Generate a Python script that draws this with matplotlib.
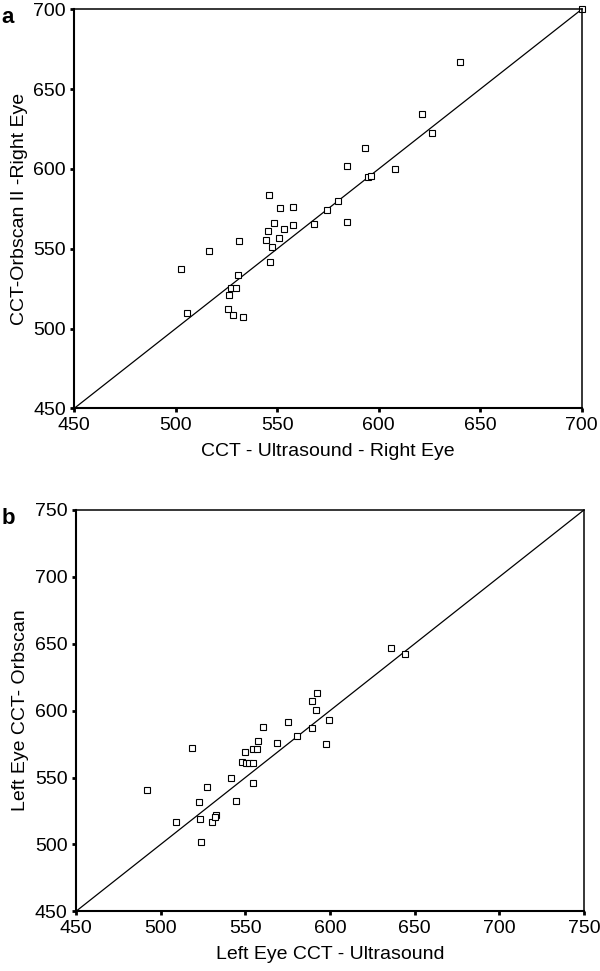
import matplotlib
matplotlib.use("Agg")
import matplotlib.pyplot as plt

plt.rcParams['font.family'] = ['Liberation Sans', 'DejaVu Sans']

# panel a: right eye (ultrasound vs Orbscan II)
right_us = [502.4, 505.4, 516.4, 531.3, 530.8, 527.2, 529.5, 526.2, 525.7, 528.0,
            533.1, 544.4, 545.6, 548.2, 547.5, 546.2, 550.7, 553.2, 551.3, 557.6,
            557.6, 567.9, 574.3, 579.8, 546.0, 584.5, 640.0, 621.1, 626.2, 593.2,
            584.5, 608.1, 594.5, 596.3, 700.0]
right_orb = [537.5, 509.5, 548.7, 554.6, 533.5, 525.2, 525.6, 520.8, 512.0, 508.6,
             507.2, 555.4, 560.9, 565.9, 551.3, 541.7, 556.9, 562.5, 575.7, 576.3,
             565.0, 565.3, 574.1, 580.0, 583.8, 566.5, 667.2, 634.4, 622.3, 613.3,
             601.8, 600.1, 595.1, 595.7, 700.0]

# panel b: left eye
left_us = [491.7, 509.2, 518.3, 522.8, 523.4, 523.6, 527.2, 530.3, 532.5, 532.3,
           541.3, 544.5, 548.0, 549.8, 550.4, 552.1, 554.3, 554.3, 554.3, 556.7,
           557.3, 560.4, 568.7, 575.3, 580.5, 589.5, 589.5, 591.9, 597.6, 599.5,
           592.4, 635.8, 644.2]
left_orb = [540.9, 516.8, 572.1, 531.5, 518.8, 502.0, 542.9, 516.8, 522.0, 520.5,
            549.9, 532.5, 561.4, 569.3, 560.6, 560.6, 560.6, 545.9, 571.1, 571.1,
            577.1, 587.8, 576.0, 591.7, 581.0, 586.8, 607.0, 600.7, 575.3, 592.8,
            613.4, 647.0, 642.3]

ticks_a = [450, 500, 550, 600, 650, 700]
ticks_b = [450, 500, 550, 600, 650, 700, 750]

fig = plt.figure(figsize=(6, 9.71), dpi=100)


def panel(rect, x, y, lims, ticks, xlabel, ylabel, letter):
    ax = fig.add_axes(rect)
    ax.plot(lims, lims, color='black', lw=0.9)
    ax.plot(x, y, ls='none', marker='s', ms=4, mfc='white', mec='black', mew=0.8, clip_on=False)
    ax.set_xlim(lims)
    ax.set_ylim(lims)
    ax.set_xticks(ticks)
    ax.set_yticks(ticks)
    ax.tick_params(direction='out', length=3, width=2, labelsize=14, pad=3,
                   top=False, right=False)
    ax.tick_params(axis='y', pad=3)
    for s in ['left', 'bottom']:
        ax.spines[s].set_linewidth(1.5)
    for s in ['top', 'right']:
        ax.spines[s].set_linewidth(1.1)
    ax.set_xlabel(xlabel, fontsize=14, labelpad=7)
    ax.set_ylabel(ylabel, fontsize=14, labelpad=4)
    pos = ax.get_position()
    fig.text(0.003, pos.y1 + 0.002, letter, fontsize=16, fontweight='bold', va='top', ha='left')
    return ax


panel([0.1238, 0.5795, 0.8457, 0.4109], right_us, right_orb, [450, 700], ticks_a,
      'CCT - Ultrasound - Right Eye', 'CCT-Orbscan II -Right Eye', 'a')
panel([0.1267, 0.0615, 0.8466, 0.4133], left_us, left_orb, [450, 750], ticks_b,
      'Left Eye CCT - Ultrasound', 'Left Eye CCT- Orbscan', 'b')

fig.savefig('out.png', dpi=100)
